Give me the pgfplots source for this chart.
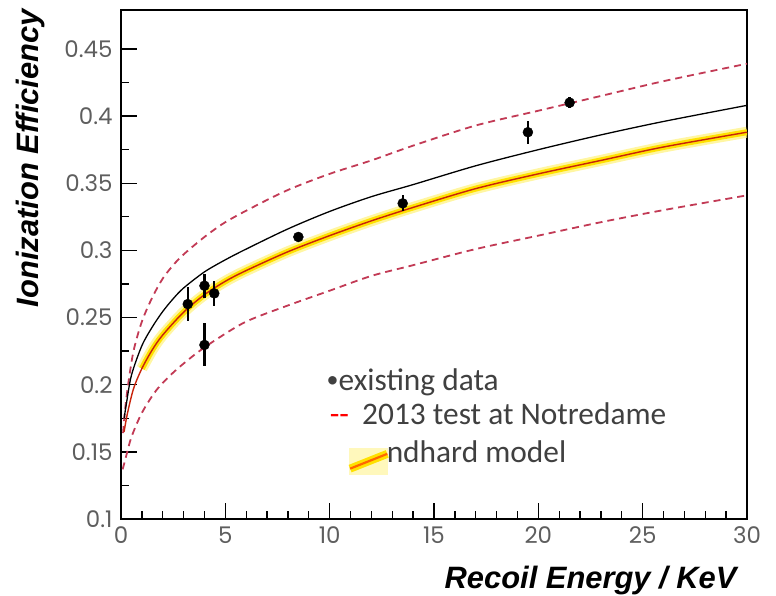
\documentclass[border=0pt]{standalone}
\usepackage{fontspec}
\setmainfont{Carlito}
\newfontfamily\tickfont{Poppins}
\newfontfamily\labfont{Liberation Sans}
\usepackage{pgfplots}
\pgfplotsset{compat=1.18}
\definecolor{dashred}{HTML}{C23A55}
\definecolor{modelred}{HTML}{C8230A}
\definecolor{bandyel}{HTML}{FFE100}
\definecolor{glowyel}{HTML}{FFF27A}
\definecolor{legtxt}{HTML}{404040}
\definecolor{ticktxt}{HTML}{5E5E5E}

\begin{document}
\begin{tikzpicture}
\begin{axis}[
  scale only axis, width=626bp, height=509bp,
  xmin=0, xmax=30, ymin=0.1, ymax=0.479,
  xtick={0,5,...,30}, minor x tick num=4,
  ytick={0.1,0.15,0.2,0.25,0.3,0.35,0.4,0.45}, minor y tick num=1,
  tick pos=left, tick align=inside,
  major tick length=16bp, minor tick length=8bp,
  major tick style={black, line width=1.4bp},
  minor tick style={black, line width=1.3bp},
  axis line style={line width=1.4bp},
  tick label style={font=\tickfont\fontsize{23}{26}\selectfont, text=ticktxt},
  xticklabel style={yshift=-4bp},
  yticklabel style={xshift=-5bp},
  /pgf/number format/assume math mode=true,
  xlabel={\labfont\bfseries\itshape Recoil Energy / KeV},
  ylabel={\labfont\bfseries\itshape Ionization Efficiency},
  label style={font=\fontsize{31}{34}\selectfont},
  xlabel style={at={(rel axis cs:0.9888,-0.1356)}, anchor=base east},
  ylabel style={at={(rel axis cs:-0.131,0.709)}, anchor=base, rotate=0},
  clip=true,
]
\coordinate (SW) at (rel axis cs:0,0);
\coordinate (NE) at (rel axis cs:1,1);
% 2013 test band (dashed)
\addplot[dashred, line width=1.8bp, dash pattern=on 7bp off 5bp, smooth] coordinates {
 (0.1,0.164) (0.2,0.182) (0.35,0.201) (0.6,0.225) (1,0.247) (1.5,0.265)
 (2,0.279) (2.5,0.289) (3,0.297) (4,0.310) (5,0.321) (6.3,0.332) (8,0.345)
 (10,0.357) (12,0.367) (14,0.378) (17,0.393) (20,0.404) (23,0.415)
 (26,0.426) (30,0.439)};
\addplot[dashred, line width=1.8bp, dash pattern=on 7bp off 5bp, smooth] coordinates {
 (0.08,0.137) (0.25,0.147) (0.5,0.161) (1,0.179) (1.7,0.196) (2.5,0.209)
 (3.5,0.222) (4.5,0.233) (6,0.247) (8,0.259) (10,0.270) (12,0.281)
 (14,0.289) (17,0.301) (20,0.311) (23,0.321) (26,0.330) (30,0.341)};
% black fit
\addplot[black, line width=1.3bp, smooth] coordinates {
 (0.15,0.175) (0.25,0.185) (0.5,0.207) (1,0.229) (1.5,0.243) (2,0.2545)
 (2.5,0.264) (3,0.272) (4,0.284) (5,0.293) (6,0.301) (8,0.316) (10,0.329)
 (12,0.340) (14,0.349) (17,0.363) (20,0.375) (23,0.386) (26,0.396) (30,0.408)};
% Lindhard band
\addplot[glowyel, line width=11bp, line join=round, opacity=0.7, smooth] coordinates {
 (1,0.212) (1.5,0.226) (2,0.237) (3,0.254) (4,0.267) (5,0.277) (6,0.285)
 (8,0.299) (10,0.311) (12,0.322) (14,0.332) (17,0.346) (20,0.357)
 (23,0.367) (26,0.377) (30,0.388)};
\addplot[bandyel, line width=6bp, line join=round, smooth] coordinates {
 (1,0.212) (1.5,0.226) (2,0.237) (3,0.254) (4,0.267) (5,0.277) (6,0.285)
 (8,0.299) (10,0.311) (12,0.322) (14,0.332) (17,0.346) (20,0.357)
 (23,0.367) (26,0.377) (30,0.388)};
\addplot[modelred, line width=1.4bp, smooth] coordinates {
 (0.15,0.165) (0.3,0.178) (0.6,0.197) (1,0.212) (1.5,0.226) (2,0.237)
 (3,0.254) (4,0.267) (5,0.277) (6,0.285) (8,0.299) (10,0.311) (12,0.322)
 (14,0.332) (17,0.346) (20,0.357) (23,0.367) (26,0.377) (30,0.388)};
% existing data
\addplot[black, only marks, mark=*, mark size=5bp,
  error bars/.cd, y dir=both, y explicit,
  error bar style={line width=2.4bp}, error mark=none]
 coordinates {
 (3.2,0.260) +- (0,0.0125)
 (4.0,0.2737) +- (0,0.009)
 (4.47,0.268) +- (0,0.0093)
 (4.0,0.2296) +- (0,0.016)
 (8.5,0.310) +- (0,0.003)
 (13.5,0.335) +- (0,0.006)
 (19.5,0.388) +- (0,0.0087)
 (21.5,0.410) +- (0,0.004)};
% legend text
\node[anchor=base west, font=\fontsize{31.5}{36}\selectfont, text=legtxt, inner sep=0pt]
  at (axis cs:9.85,0.196) {\raisebox{3bp}{\fontsize{24}{24}\selectfont •}existing data};
\node[anchor=base west, font=\fontsize{31.5}{36}\selectfont, text=red, inner sep=0pt]
  at (axis cs:10.0,0.170) {-{}-};
\node[anchor=base west, font=\fontsize{31.5}{36}\selectfont, text=legtxt, inner sep=0pt]
  at (axis cs:11.55,0.170) {2013 test at Notredame};
\node[anchor=base west, font=\fontsize{31.5}{36}\selectfont, text=legtxt, inner sep=0pt]
  at (axis cs:11.75,0.1424) {Lindhard model};
\fill[white] (axis cs:10.9,0.1305) rectangle (axis cs:12.8,0.1595);
\fill[glowyel, opacity=0.5] (axis cs:10.95,0.1325) rectangle (axis cs:12.78,0.1525);
\draw[bandyel, line width=8bp] (axis cs:10.98,0.1375) -- (axis cs:12.76,0.1485);
\draw[orange!80!red, line width=2.2bp] (axis cs:10.98,0.1375) -- (axis cs:12.76,0.1485);
\end{axis}
\pgfresetboundingbox
\path[use as bounding box] ([shift={(-121bp,-77bp)}]SW) rectangle ([shift={(29bp,10bp)}]NE);
\end{tikzpicture}
\end{document}
